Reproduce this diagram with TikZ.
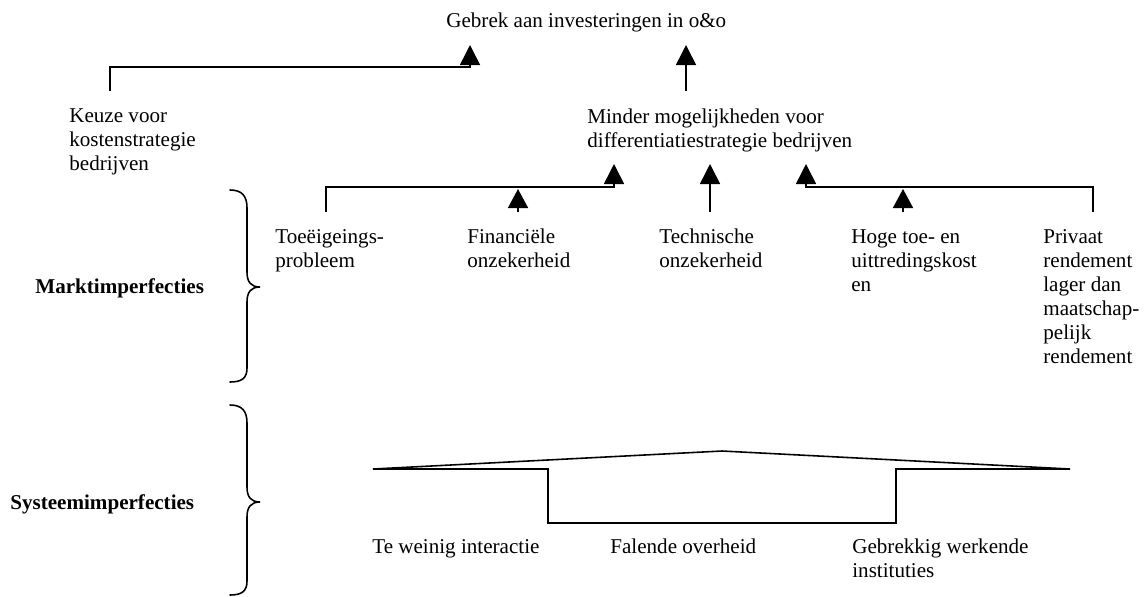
\documentclass[tikz,border=0pt]{standalone}
\usepackage{fontspec}
\setmainfont{Liberation Serif}
\usetikzlibrary{arrows.meta,calc}
\begin{document}
\begin{tikzpicture}[x=0.02cm,y=-0.02cm,
  % multi-line labels are placed by the baseline of their last line
  lbl/.style={anchor=base west,inner sep=0pt,align=left,
    font={\fontsize{12pt}{13.66pt}\selectfont}},
  hdr/.style={lbl,font={\fontsize{12pt}{13.66pt}\selectfont\bfseries}},
  link/.style={line width=0.9pt},
  cause/.style={link,-{Triangle[length=0.4cm,width=0.4cm]}},
  smallcause/.style={link,-{Triangle[length=0.38cm,width=0.4cm]}},
  brace/.style={line width=0.9pt,line cap=round}]
\useasboundingbox (0,0) rectangle (1145,596);

% text blocks
\node[lbl] (goal) at (446,27) {Gebrek aan investeringen in o\&o};
\node[lbl] (cost) at (69,170) {Keuze voor\\kostenstrategie\\bedrijven};
\node[lbl] (diff) at (587,147) {Minder mogelijkheden voor\\differentiatiestrategie bedrijven};
\node[lbl] (appr) at (275,267) {Toeëigeings-\\probleem};
\node[lbl] (fin)  at (467,267) {Financiële\\onzekerheid};
\node[lbl] (tech) at (659,267) {Technische\\onzekerheid};
\node[lbl] (entry) at (851,291) {Hoge toe- en\\uittredingskost\\en};
\node[lbl] (priv) at (1043,363) {Privaat\\rendement\\lager dan\\maatschap-\\pelijk\\rendement};
\node[hdr] (market) at (35,293) {Marktimperfecties};
\node[hdr] (system) at (10,509) {Systeemimperfecties};
\node[lbl] (inter) at (372,553) {Te weinig interactie};
\node[lbl] (gov)   at (610,553) {Falende overheid};
\node[lbl] (inst)  at (852,577) {Gebrekkig werkende\\instituties};

% connector end points
\coordinate (costTop) at (110,91);
\coordinate (goalL) at (470,45);
\coordinate (diffTop) at (686,91);
\coordinate (goalR) at (686,45);
\coordinate (apprTop) at (326,212);
\coordinate (finTop) at (518,212);
\coordinate (techTop) at (710,212);
\coordinate (entryTop) at (903,212);
\coordinate (privTop) at (1093,212);
\coordinate (diffA) at (614,164);
\coordinate (diffB) at (518,189);
\coordinate (diffC) at (710,164);
\coordinate (diffD) at (903,189);
\coordinate (diffE) at (806,164);

% causal links
\draw[cause] (costTop) |- ($(goalL)+(0,22)$) -- (goalL);
\draw[cause] (diffTop) -- (goalR);
\draw[cause] (apprTop) |- (614,187) -- (diffA);
\draw[smallcause] (finTop) -- (diffB);
\draw[cause] (techTop) -- (diffC);
\draw[smallcause] (entryTop) -- (diffD);
\draw[cause] (privTop) |- (806,187) -- (diffE);

% grouping braces
\draw[brace] (230,190) .. controls (242,190) and (247,196) .. (247,208)
  -- (247,272) .. controls (247,282) and (251,287) .. (260,287)
  .. controls (251,287) and (247,292) .. (247,302)
  -- (247,368) .. controls (247,378) and (242,382) .. (230,382);
\draw[brace] (230,405) .. controls (242,405) and (247,411) .. (247,423)
  -- (247,487) .. controls (247,497) and (251,502) .. (260,502)
  .. controls (251,502) and (247,507) .. (247,517)
  -- (247,581) .. controls (247,591) and (242,595) .. (230,595);

% system shape
\draw[link,line join=miter] (373,469) -- (722,451) -- (1070,469) -- (896,469)
  -- (896,523) -- (548,523) -- (548,469) -- cycle;
\end{tikzpicture}
\end{document}
